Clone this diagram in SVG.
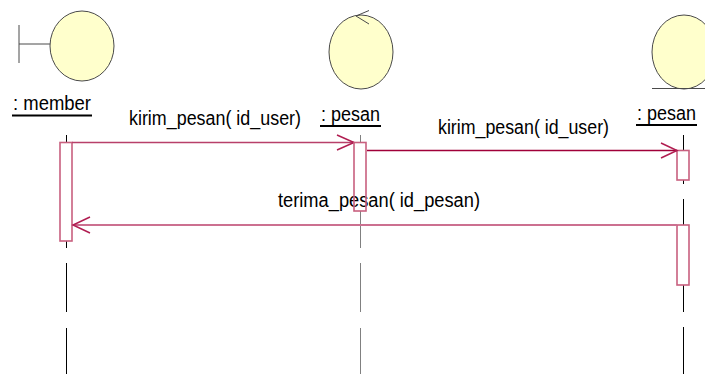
<svg xmlns="http://www.w3.org/2000/svg" width="705" height="374" viewBox="0 0 705 374">
<style>
.bg{fill:#ffffff}
.shape{fill:#ffffcc;stroke:#4a4a4a;stroke-width:1}
.deco{fill:none;stroke:#4a4a4a;stroke-width:1}
.life{stroke:#000000;stroke-width:1;fill:none}
.lifeg{stroke:#808080;stroke-width:1;fill:none}
.act{fill:none;stroke:#c8607f;stroke-width:1.6}
.lbl{font-family:"Liberation Sans",Arial,sans-serif;font-size:19.5px;fill:#000000}
.ul{stroke:#000000;stroke-width:2}
.msg{fill:none;stroke:#b8406a;stroke-width:1.5}
.msg2{fill:none;stroke:#a00038;stroke-width:1.5}
.ret{fill:none;stroke:#cc7090;stroke-width:2}
.head{fill:none;stroke:#b01c50;stroke-width:1.5}
</style>
<rect class="bg" x="0" y="0" width="705" height="374"/>

<g id="member">
  <line class="deco" x1="19" y1="25" x2="19" y2="63"/>
  <line class="deco" x1="19" y1="44" x2="50" y2="44"/>
  <ellipse class="shape" cx="82" cy="46" rx="32" ry="35"/>
  <text class="lbl" x="13" y="110" textLength="78" lengthAdjust="spacingAndGlyphs">: member</text>
  <line class="ul" x1="12" y1="115.5" x2="92" y2="115.5"/>
  <path class="life" d="M66.5 135V142M66.5 241V248M66.5 263V312M66.5 328V374"/>
  <rect class="act" x="60" y="142.5" width="12" height="98.5"/>
</g>

<g id="pesan_control">
  <ellipse class="shape" cx="361" cy="52" rx="32" ry="37"/>
  <polyline class="deco" points="369,10.5 356,16 369,24"/>
  <text class="lbl" x="321" y="121" textLength="59" lengthAdjust="spacingAndGlyphs">: pesan</text>
  <line class="ul" x1="320" y1="126" x2="381" y2="126"/>
  <path class="lifeg" d="M360.5 135V142M360.5 211V248M360.5 263V312M360.5 328V374"/>
</g>

<g id="pesan_entity">
  <ellipse class="shape" cx="684" cy="52" rx="32" ry="37"/>
  <line class="deco" x1="652" y1="88.5" x2="705" y2="88.5"/>
  <text class="lbl" x="637" y="120" textLength="59" lengthAdjust="spacingAndGlyphs">: pesan</text>
  <line class="ul" x1="636" y1="125" x2="697" y2="125"/>
  <path class="life" d="M683.5 135V150M683.5 180V184M683.5 199V225M683.5 285V312M683.5 327V374"/>
  <rect class="act" x="677" y="150.5" width="12" height="29.5"/>
  <rect class="act" x="677" y="225" width="12" height="60"/>
</g>

<g id="connectors">
  <g id="msg1">
    <line class="msg" x1="72" y1="142.5" x2="354" y2="142.5"/>
    <polyline class="head" points="337,135 354,142.5 337,150"/>
    <text class="lbl" x="129" y="125" textLength="172" lengthAdjust="spacingAndGlyphs">kirim_pesan( id_user)</text>
  </g>
  <g id="msg2">
    <line class="msg2" x1="367" y1="150.5" x2="677" y2="150.5"/>
    <polyline class="head" points="661,143 677,150.5 661,158"/>
    <text class="lbl" x="438" y="133.5" textLength="171" lengthAdjust="spacingAndGlyphs">kirim_pesan( id_user)</text>
  </g>
  <g id="msg3">
    <line class="ret" x1="677" y1="225" x2="74" y2="225"/>
    <polyline class="head" points="90,217 73,225 90,233"/>
    <text class="lbl" x="278" y="206.5" textLength="202" lengthAdjust="spacingAndGlyphs">terima_pesan( id_pesan)</text>
  </g>
</g>

<rect class="act" x="354" y="142.5" width="12" height="68.5"/>
</svg>
